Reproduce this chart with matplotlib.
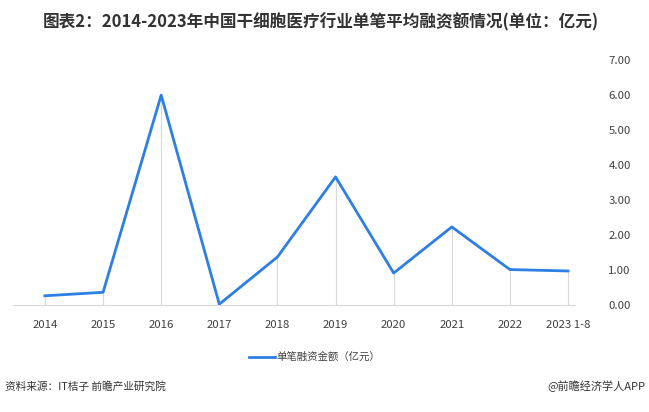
import numpy as np
import matplotlib.pyplot as plt

plt.rcParams['font.family'] = ['Noto Sans CJK SC', 'DejaVu Sans']

years = ["2014", "2015", "2016", "2017", "2018", "2019", "2020", "2021", "2022", "2023 1-8"]
amount = [0.26, 0.36, 6.00, 0.02, 1.37, 3.66, 0.91, 2.23, 1.01, 0.97]
yticks = [0, 1, 2, 3, 4, 5, 6, 7]

title = "图表2：2014-2023年中国干细胞医疗行业单笔平均融资额情况(单位：亿元)"
series_name = "单笔融资金额（亿元）"
source = "资料来源：IT桔子 前瞻产业研究院"
credit = "@前瞻经济学人APP"

fig = plt.figure(figsize=(6.49, 4.12), dpi=100)
ax = fig.add_axes([0.02, 0.26, 0.866, 0.594])

x = np.arange(len(years))
ax.vlines(x, 0, amount, color="#d9d9d9", lw=0.8, zorder=1)
line, = ax.plot(x, amount, color="#2e7fe4", lw=2.0, zorder=3, label=series_name)

ax.set_xlim(-0.55, 9.12)
ax.set_ylim(0, 7)
ax.set_xticks(x)
ax.set_xticklabels(years, fontsize=8.2, color="#404040")
ax.set_yticks(yticks)
ax.set_yticklabels([f"{v:.2f}" for v in yticks], fontsize=8.2, color="#404040")
ax.yaxis.tick_right()
ax.tick_params(axis="both", length=0)
ax.tick_params(axis="y", pad=24)
ax.tick_params(axis="x", pad=11)
for s in ["top", "left", "right"]:
    ax.spines[s].set_visible(False)
ax.spines["bottom"].set_color("#d9d9d9")

fig.legend(handles=[line], loc="center", bbox_to_anchor=(0.485, 0.133), frameon=False,
           fontsize=7.5, handlelength=2.5, handletextpad=0.1, labelcolor="#404040")

fig.text(0.494, 0.945, title, ha="center", va="center", fontsize=12, fontweight="bold", color="#333333")
fig.text(0.008, 0.063, source, ha="left", va="center", fontsize=7.7, color="#333333")
fig.text(0.995, 0.063, credit, ha="right", va="center", fontsize=8, color="#333333")

fig.savefig("out.png", dpi=100)
